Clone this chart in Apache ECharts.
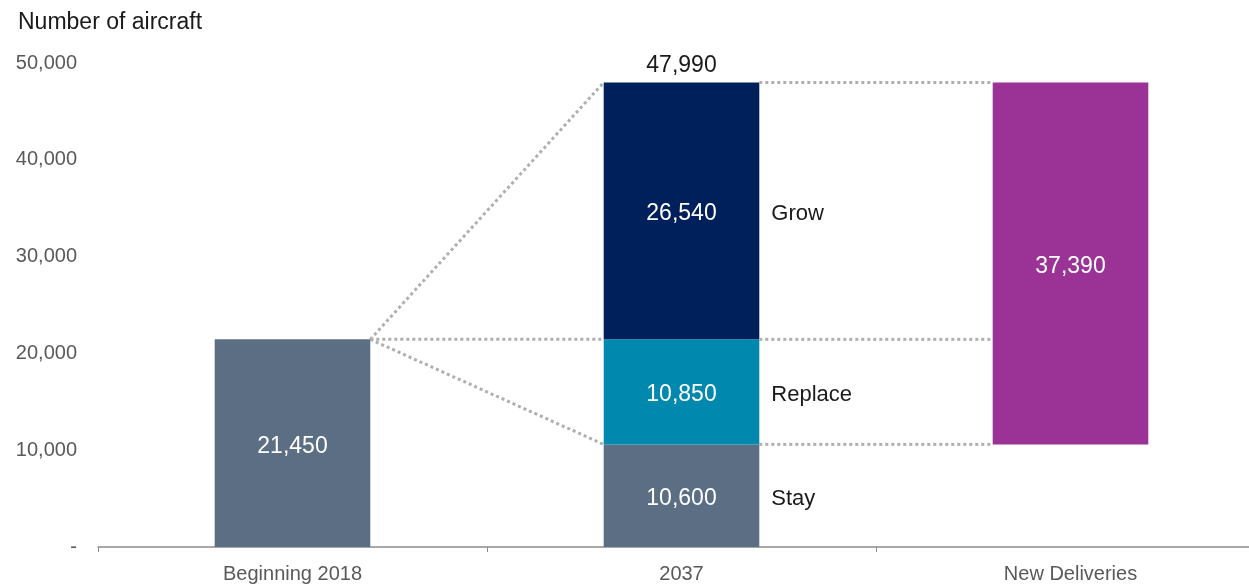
<!DOCTYPE html>
<html>
<head>
<meta charset="utf-8">
<script src="https://cdn.jsdelivr.net/npm/echarts@6/dist/echarts.min.js"></script>
<style>
html,body{margin:0;padding:0;background:#fff;overflow:hidden;width:1249px;height:584px;}
#c{width:1265px;height:584px;}
</style>
</head>
<body>
<div id="c"></div>
<script>
const categories = ['Beginning 2018', '2037', 'New Deliveries'];
const yTicks = [0, 10000, 20000, 30000, 40000, 50000];
const beginningValue = 21450;
const stayValue = 10600;
const replaceValue = 10850;
const growValue = 26540;
const totalValue = 47990;
const newDeliveriesValue = 37390;
const segmentNames = ['Stay', 'Replace', 'Grow'];

const FONT = 'Liberation Sans, Arial, sans-serif';
const GRAY = '#5b6e83';
const TEAL = '#0088ae';
const NAVY = '#00205b';
const PURPLE = '#9a3395';
const DOT = '#afafaf';

const fmt = v => v.toLocaleString('en-US');
const whiteLabel = {show: true, position: 'inside', offset: [0, 3], color: '#fff', fontSize: 23, fontFamily: FONT, formatter: p => fmt(p.value)};

const chart = echarts.init(document.getElementById('c'));
chart.setOption({
  animation: false,
  title: {text: 'Number of aircraft', left: 13, top: 6, textStyle: {fontSize: 23, fontWeight: 'normal', color: '#1a1a1a', fontFamily: FONT}},
  grid: {left: 98, right: 0, top: 63, bottom: 35},
  xAxis: {
    type: 'category', data: categories,
    axisLine: {lineStyle: {color: '#8c8c8c', width: 1.5}},
    axisTick: {show: true, length: 5, lineStyle: {color: '#8c8c8c'}},
    axisLabel: {color: '#595959', fontSize: 20, fontFamily: FONT, margin: 17}
  },
  yAxis: {
    type: 'value', min: yTicks[0], max: yTicks[yTicks.length - 1], interval: yTicks[1] - yTicks[0],
    axisLine: {show: false}, axisTick: {show: false}, splitLine: {show: false},
    axisLabel: {color: '#595959', fontSize: 20, fontFamily: FONT, margin: 21, formatter: v => v === 0 ? '-' : fmt(v)}
  },
  series: [
    {type: 'bar', stack: 's', barWidth: '40%', itemStyle: {color: GRAY}, label: whiteLabel,
      data: [beginningValue, stayValue, {value: stayValue, itemStyle: {color: 'rgba(0,0,0,0)'}, label: {show: false}}]},
    {type: 'bar', stack: 's', itemStyle: {color: TEAL}, label: whiteLabel, data: ['-', replaceValue, '-']},
    {type: 'bar', stack: 's', itemStyle: {color: NAVY}, label: whiteLabel, data: ['-', growValue, '-']},
    {type: 'bar', stack: 's', itemStyle: {color: PURPLE}, label: whiteLabel, data: ['-', '-', newDeliveriesValue]},
    {
      type: 'custom', z: 5, data: [[0, 0]], encode: {x: 0, y: 1}, clip: false,
      renderItem: function (params, api) {
        const hw = api.size([1, 0])[0] * 0.2;
        const P = (c, v) => api.coord([c, v]);
        const xB = P(0, 0)[0] + hw;
        const x2L = P(1, 0)[0] - hw;
        const x2R = P(1, 0)[0] + hw;
        const x3L = P(2, 0)[0] - hw;
        const yBeg = P(0, beginningValue)[1];
        const yStay = P(1, stayValue)[1];
        const yRep = P(1, stayValue + replaceValue)[1];
        const yTot = P(1, totalValue)[1];
        const ls = {stroke: DOT, lineWidth: 3, lineDash: [3, 3], fill: null};
        const line = (x1, y1, x2, y2) => ({type: 'line', shape: {x1, y1, x2, y2}, style: ls});
        const text = (x, y, t, align, va, size) => ({type: 'text', x, y, style: {text: t, fill: '#1a1a1a', font: size + 'px ' + FONT, align: align, verticalAlign: va}});
        const yZero = P(1, 0)[1];
        const segMids = [(yZero + yStay) / 2 + 3, (yStay + yRep) / 2 + 3, (yRep + yTot) / 2 + 3];
        return {type: 'group', children: [
          line(xB, yBeg, x2L, yTot),
          line(xB, yBeg, x2L, yBeg),
          line(xB, yBeg, x2L, yStay),
          line(x2R, yTot, x3L, yTot),
          line(x2R, yRep, x3L, yRep),
          line(x2R, yStay, x3L, yStay),
          text((x2L + x2R) / 2, yTot - 5, fmt(totalValue), 'center', 'bottom', 23),
          text(x2R + 12, segMids[0], segmentNames[0], 'left', 'middle', 22),
          text(x2R + 12, segMids[1], segmentNames[1], 'left', 'middle', 22),
          text(x2R + 12, segMids[2], segmentNames[2], 'left', 'middle', 22)
        ]};
      }
    }
  ]
});
</script>
</body>
</html>
